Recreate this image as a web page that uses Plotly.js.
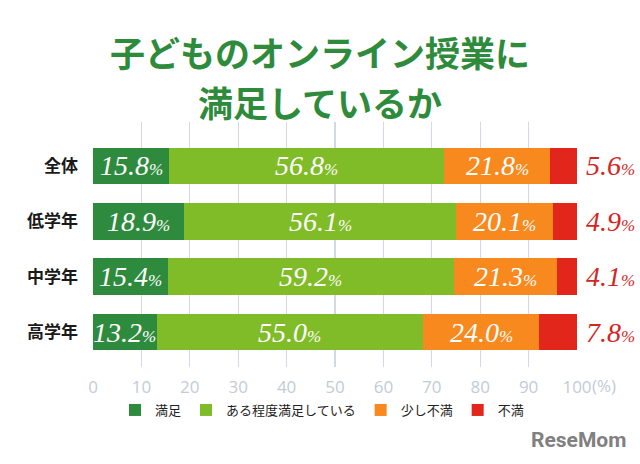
<!DOCTYPE html>
<html>
<head>
<meta charset="utf-8">
<script src="https://cdn.plot.ly/plotly-3.0.1.min.js"></script>
<style>html,body{margin:0;padding:0;background:#fff;}#chart{width:640px;height:464px;}</style>
</head>
<body>
<div id="chart"></div>
<script>
// ---- data ----
const categories = ["全体", "低学年", "中学年", "高学年"];
const seriesNames = ["満足", "ある程度満足している", "少し不満", "不満"];
const satisfied = [15.8, 18.9, 15.4, 13.2];
const somewhatSatisfied = [56.8, 56.1, 59.2, 55.0];
const slightlyDissatisfied = [21.8, 20.1, 21.3, 24.0];
const dissatisfied = [5.6, 4.9, 4.1, 7.8];
const tickValues = [0, 10, 20, 30, 40, 50, 60, 70, 80, 90, 100];
const tickLabels = ["0", "10", "20", "30", "40", "50", "60", "70", "80", "90", "100"];
const titleLines = ["子どものオンライン授業に", "満足しているか"];

// ---- styles ----
const colors = ["#2e8b3d", "#80bc27", "#f7891f", "#e2261b"];
const series = [satisfied, somewhatSatisfied, slightlyDissatisfied, dissatisfied];
const numFont = "Liberation Serif, DejaVu Serif, serif";
const jpFont = "Noto Sans CJK JP, sans-serif";
const W = 640, H = 464;
const M = {l: 93, r: 63, t: 122, b: 97};
const PW = W - M.l - M.r, PH = H - M.t - M.b;
const px2x = p => (p - M.l) / PW;       // pixel x -> paper x
const px2y = p => (H - M.b - p) / PH;   // pixel y -> paper y

const traces = series.map((vals, i) => ({
  type: "bar",
  orientation: "h",
  name: seriesNames[i],
  y: categories,
  x: vals,
  marker: {color: colors[i], line: {width: 0}},
  hoverinfo: "skip"
}));

function fmt(v) {
  return "<i>" + v.toFixed(1) + "<span style='font-size:17px'>%</span></i>";
}

const annotations = [];
categories.forEach((c, ci) => {
  let cum = 0;
  series.forEach((vals, si) => {
    const v = vals[ci];
    if (si < 3) {
      annotations.push({
        x: cum + v / 2, y: c, xref: "x", yref: "y",
        text: fmt(v), showarrow: false,
        font: {family: numFont, size: 28, color: "#ffffff"},
        xanchor: "center", yanchor: "middle"
      });
    } else {
      annotations.push({
        x: cum + v, y: c, xref: "x", yref: "y",
        text: fmt(v), showarrow: false,
        font: {family: numFont, size: 28, color: "#d3261f"},
        xanchor: "left", yanchor: "middle", xshift: 7
      });
    }
    cum += v;
  });
});

// "(%)" unit after the 100 tick
annotations.push({
  x: 100, y: px2y(385), xref: "x", yref: "paper",
  text: "(%)", showarrow: false, xanchor: "left", yanchor: "middle", xshift: 13,
  font: {family: "Open Sans, sans-serif", size: 17, color: "#c3cbd7"}
});

// title lines
annotations.push({
  x: px2x(320), y: px2y(52), xref: "paper", yref: "paper",
  text: "<b>" + titleLines[0] + "</b>", showarrow: false,
  xanchor: "center", yanchor: "middle",
  font: {family: jpFont, size: 35, color: "#2e8b3b"}
});
annotations.push({
  x: px2x(320), y: px2y(101), xref: "paper", yref: "paper",
  text: "<b>" + titleLines[1] + "</b>", showarrow: false,
  xanchor: "center", yanchor: "middle",
  font: {family: jpFont, size: 35, color: "#2e8b3b"}
});

// logo
annotations.push({
  x: px2x(628), y: px2y(440), xref: "paper", yref: "paper",
  text: "<b>ReseMom</b>", showarrow: false, xanchor: "right", yanchor: "middle",
  font: {family: "Roboto, sans-serif", size: 21, color: "#808080"}
});

const layout = {
  width: W, height: H,
  margin: {l: M.l, r: M.r, t: M.t, b: M.b, autoexpand: false},
  paper_bgcolor: "#ffffff", plot_bgcolor: "#ffffff",
  barmode: "stack",
  bargap: 0.34,
  showlegend: true,
  legend: {
    orientation: "h",
    x: px2x(322), xanchor: "center", y: px2y(410), yanchor: "middle",
    font: {family: jpFont, size: 13, color: "#222222"},
    traceorder: "normal", itemclick: false, itemdoubleclick: false
  },
  xaxis: {
    range: [0, 100], tickvals: tickValues, ticktext: tickLabels,
    showgrid: true, gridcolor: "#d3d9e3", gridwidth: 1.3,
    zeroline: false, showline: false, ticks: "",
    ticklabelstandoff: 8,
    tickfont: {family: "Open Sans, sans-serif", size: 17, color: "#c3cbd7"},
    fixedrange: true
  },
  yaxis: {
    categoryorder: "array", categoryarray: categories,
    autorange: false, range: [3.63, -0.79],
    ticks: "", showline: false, showgrid: false, zeroline: false,
    ticklabelstandoff: 14,
    tickfont: {family: jpFont, size: 17, color: "#1a1a1a", weight: "bold"},
    fixedrange: true
  },
  annotations: annotations
};

Plotly.newPlot("chart", traces, layout, {staticPlot: true});
</script>
</body>
</html>
